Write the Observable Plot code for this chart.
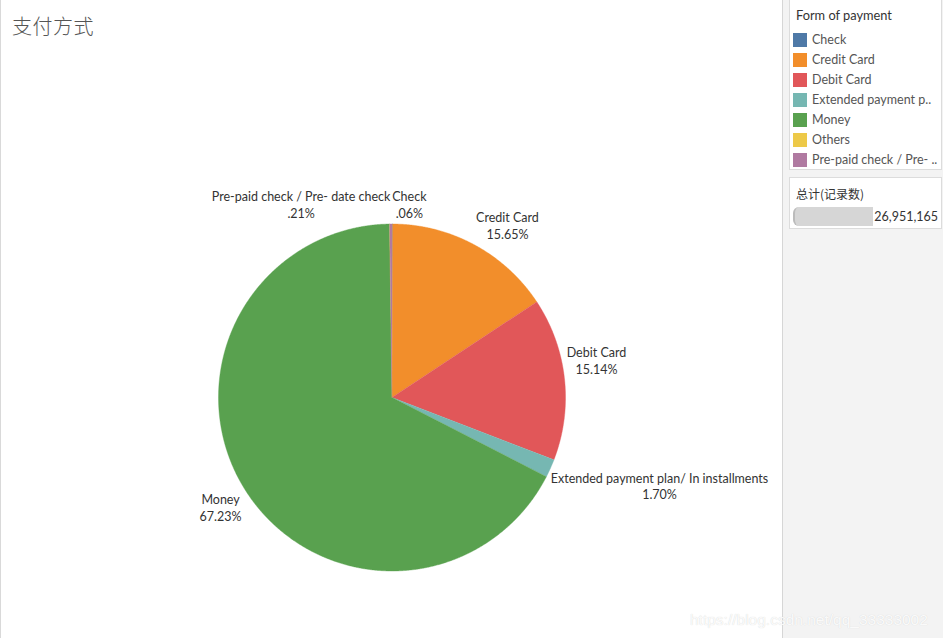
<!DOCTYPE html>
<html><head><meta charset="utf-8">
<script src="https://cdn.jsdelivr.net/npm/d3@7"></script>
<script src="https://cdn.jsdelivr.net/npm/@observablehq/plot@0.6"></script>
<style>
body{margin:0;width:943px;height:638px;overflow:hidden;background:#fff;font-family:Lato,"Noto Sans",sans-serif;position:relative}
#leftline{position:absolute;left:0;top:0;width:1px;height:638px;background:#d9d9d9}
#title{position:absolute;left:12px;top:11px;font-family:"Noto Sans CJK SC",sans-serif;font-size:20px;font-weight:300;color:#555;letter-spacing:0.5px}
#chart{position:absolute;left:0;top:0}
#panel{position:absolute;left:782px;top:0;width:161px;height:638px;background:#f3f3f3;border-left:1px solid #d6d6d6;box-sizing:border-box}
#legend{position:absolute;left:789px;top:-1px;width:153px;height:171px;background:#fff;border:1px solid #dcdcdc;box-sizing:border-box}
#legend .lt{position:absolute;left:6px;top:7px;font-size:12.8px;color:#333}
#legend .item{position:absolute;left:3px;height:14px;font-size:12.5px;color:#555;white-space:nowrap;line-height:14px}
#legend .sw{display:inline-block;width:14px;height:14px;vertical-align:top;margin-right:5px}
#total{position:absolute;left:789px;top:177px;width:153px;height:52px;background:#fff;border:1px solid #dcdcdc;box-sizing:border-box}
#total .tt{position:absolute;left:6px;top:7px;font-size:12px;color:#333;font-family:"Noto Sans CJK SC",sans-serif}
#total .bar{position:absolute;left:3px;top:29px;width:80px;height:19px;background:#d6d6d6;border-left:2px solid #bbb;border-radius:6px 0 0 6px;box-sizing:border-box}
#total .num{position:absolute;right:3px;top:31px;font-size:12.5px;color:#333}
#wm{position:absolute;left:690px;top:611px;font-family:"Liberation Sans",Arial,sans-serif;font-size:15.5px;color:rgba(255,255,255,0.9);text-shadow:0 0 1px #d0d0d0;white-space:nowrap}
</style></head>
<body>
<div id="leftline"></div>
<div id="chart"></div>
<div id="title">支付方式</div>
<div id="panel"></div>
<div id="legend"><div class="lt">Form of payment</div></div>
<div id="total"><div class="tt">总计(记录数)</div><div class="bar"></div><div class="num"></div></div>
<div id="wm">https://blog.csdn.net/qq_33333002</div>
<script>
const categories = ["Check","Credit Card","Debit Card","Extended payment plan/ In installments","Money","Others","Pre-paid check / Pre- date check"];
const legendLabels = ["Check","Credit Card","Debit Card","Extended payment p..","Money","Others","Pre-paid check / Pre- .."];
const shares = [0.06,15.65,15.14,1.70,67.23,0.01,0.21];
const pctLabels = [".06%","15.65%","15.14%","1.70%","67.23%","",".21%"];
const colors = ["#4e79a7","#f28e2b","#e15759","#76b7b2","#59a14f","#edc948","#b07aa1"];
const totalRecords = 26951165;

// label nudges (layout only, pixels)
const nudge = {
  "Check":[17,14.5],
  "Credit Card":[16.5,10.5],
  "Debit Card":[-2.5,-15],
  "Extended payment plan/ In installments":[77.5,3],
  "Money":[5.5,-0.5],
  "Others":[0,0],
  "Pre-paid check / Pre- date check":[-89.5,14.5]
};

const slices = categories.map((c,i)=>({cat:c, share:shares[i], pct:pctLabels[i]}));
const arcs = d3.pie().sort(null).value(d=>d.share)(slices);

const pts = [];
arcs.forEach(a=>{
  const c = a.data.cat;
  pts.push({cat:c, x:0, y:0});
  const n = Math.max(2, Math.ceil((a.endAngle-a.startAngle)/0.005));
  for(let k=0;k<=n;k++){
    const t = a.startAngle + (a.endAngle-a.startAngle)*k/n;
    pts.push({cat:c, x:Math.sin(t), y:Math.cos(t)});
  }
});

const R = 1.2;
const labelData = arcs.filter(a=>a.data.pct!=="").map(a=>{
  const m=(a.startAngle+a.endAngle)/2;
  return {cat:a.data.cat, x:R*Math.sin(m), y:R*Math.cos(m), text:a.data.cat+"\n"+a.data.pct};
});

const chart = Plot.plot({
  width:782, height:638,
  margin:0,
  x:{domain:[-1,1], range:[218,565], axis:null},
  y:{domain:[-1,1], range:[570.5,223.5], axis:null},
  color:{domain:categories, range:colors},
  style:{background:"transparent"},
  marks:[
    Plot.line(pts,{x:"x",y:"y",z:"cat",fill:"cat",stroke:"cat",strokeWidth:0.4,curve:"linear"}),
    ...labelData.map(d=>Plot.text([d],{x:"x",y:"y",text:"text",dx:nudge[d.cat][0],dy:nudge[d.cat][1],
      fontSize:12.5,fill:"#333",lineHeight:1.35,textAnchor:"middle",fontFamily:"Lato, sans-serif"}))
  ]
});
document.getElementById("chart").appendChild(chart);

const lg = document.getElementById("legend");
legendLabels.forEach((l,i)=>{
  const d=document.createElement("div");
  d.className="item";
  d.style.top=(33+20*i)+"px";
  d.innerHTML='<span class="sw" style="background:'+colors[i]+'"></span>'+l;
  lg.appendChild(d);
});
document.querySelector("#total .num").textContent=d3.format(",")(totalRecords);
</script>
</body></html>
